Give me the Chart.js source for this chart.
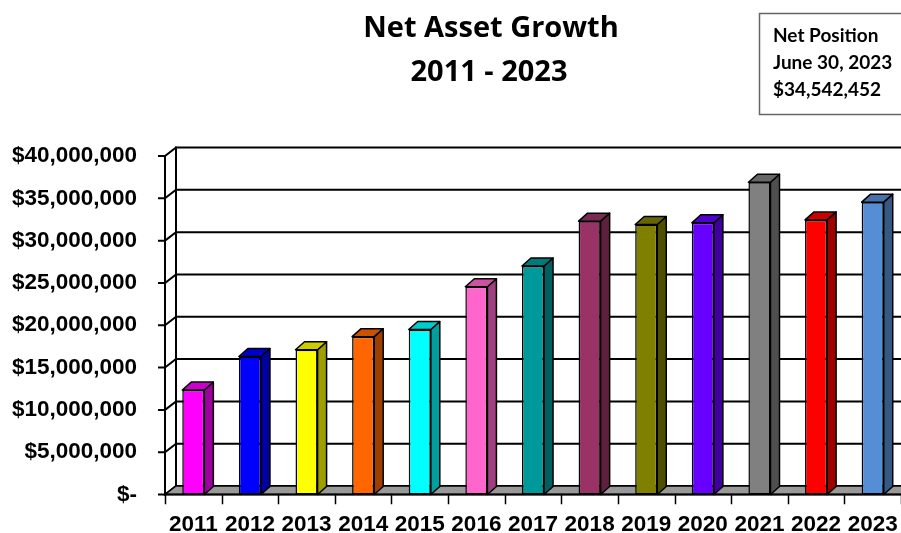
<!DOCTYPE html>
<html>
<head>
<meta charset="utf-8">
<script src="https://cdn.jsdelivr.net/npm/chart.js@4.4.0/dist/chart.umd.min.js"></script>
<style>
  body { margin: 0; background: #fff; }
  canvas { display: block; }
</style>
</head>
<body>
<canvas id="netChart" width="901" height="533"></canvas>
<script>
const years = ['2011', '2012', '2013', '2014', '2015', '2016', '2017', '2018', '2019', '2020', '2021', '2022', '2023'];
const netAssets = [12350000, 16300000, 17100000, 18650000, 19500000, 24550000, 27000000, 32300000, 31900000, 32100000, 36900000, 32450000, 34542452];
const barColors = ['#FF00FF', '#0000FF', '#FFFF00', '#FF6600', '#00FFFF', '#FF66CC', '#009999', '#993366', '#808000', '#6600FF', '#808080', '#FF0000', '#558ED5'];
const yTickLabels = ['$-', '$5,000,000', '$10,000,000', '$15,000,000', '$20,000,000', '$25,000,000', '$30,000,000', '$35,000,000', '$40,000,000'];
const titleLines = ['Net Asset Growth', '2011 - 2023'];
const noteLines = ['Net Position', 'June 30, 2023', '$34,542,452'];

// depth of the fake 3d box
const WALL_DX = 11, WALL_DY = 8.5;
const BAR_DX = 9, BAR_DY = 8;

function shade(hex, f) {
  const n = parseInt(hex.slice(1), 16);
  const r = Math.round(((n >> 16) & 255) * f);
  const g = Math.round(((n >> 8) & 255) * f);
  const b = Math.round((n & 255) * f);
  return 'rgb(' + r + ',' + g + ',' + b + ')';
}

function poly(ctx, pts, fill) {
  ctx.beginPath();
  ctx.moveTo(pts[0][0], pts[0][1]);
  for (let i = 1; i < pts.length; i++) ctx.lineTo(pts[i][0], pts[i][1]);
  ctx.closePath();
  if (fill) { ctx.fillStyle = fill; ctx.fill(); }
  ctx.stroke();
}

const box3d = {
  id: 'box3d',
  beforeDatasetsDraw(chart) {
    const ctx = chart.ctx;
    const area = chart.chartArea;
    const y = chart.scales.y;
    const x = chart.scales.x;
    const left = area.left;
    const y0 = y.getPixelForValue(0);
    const yTop = y.getPixelForValue(40000000);
    ctx.save();
    ctx.strokeStyle = '#000';
    ctx.lineWidth = 2;
    ctx.lineCap = 'square';

    // back wall grid lines with the small slanted joins on the left
    for (let v = 0; v <= 40000000; v += 5000000) {
      const py = y.getPixelForValue(v);
      ctx.beginPath();
      ctx.moveTo(left - 6, py);
      ctx.lineTo(left, py);
      ctx.lineTo(left + WALL_DX, py - WALL_DY);
      ctx.lineTo(chart.width + 5, py - WALL_DY);
      ctx.stroke();
    }
    // front and back vertical edges
    ctx.beginPath();
    ctx.moveTo(left, yTop);
    ctx.lineTo(left, y0);
    ctx.moveTo(left + WALL_DX, yTop - WALL_DY);
    ctx.lineTo(left + WALL_DX, y0 - WALL_DY);
    ctx.stroke();

    // floor
    ctx.lineWidth = 1.5;
    poly(ctx, [[left, y0], [left + WALL_DX, y0 - WALL_DY], [chart.width + 5, y0 - WALL_DY], [chart.width + 5, y0]], '#999999');
    ctx.lineWidth = 2;
    ctx.beginPath();
    ctx.moveTo(left, y0);
    ctx.lineTo(chart.width + 5, y0);
    ctx.stroke();

    // category tick marks under the floor
    const cw = (x.right - x.left) / years.length;
    ctx.lineWidth = 1.5;
    for (let i = 0; i <= years.length; i++) {
      const px = Math.round(x.left + i * cw) + 0.5;
      ctx.beginPath();
      ctx.moveTo(px, y0);
      ctx.lineTo(px, y0 + 9);
      ctx.stroke();
    }
    ctx.restore();
  },
  afterDatasetsDraw(chart) {
    const ctx = chart.ctx;
    const meta = chart.getDatasetMeta(0);
    ctx.save();
    ctx.strokeStyle = '#000';
    ctx.lineWidth = 1.5;
    ctx.lineJoin = 'round';
    meta.data.forEach((bar, i) => {
      const p = bar.getProps(['x', 'y', 'base', 'width'], true);
      const l = p.x - p.width / 2, r = p.x + p.width / 2;
      const c = barColors[i];
      poly(ctx, [[r, p.y], [r + BAR_DX, p.y - BAR_DY], [r + BAR_DX, p.base - BAR_DY], [r, p.base]], shade(c, 0.62));
      poly(ctx, [[l, p.y], [l + BAR_DX, p.y - BAR_DY], [r + BAR_DX, p.y - BAR_DY], [r, p.y]], shade(c, 0.8));
    });
    ctx.restore();
  },
  afterDraw(chart) {
    const ctx = chart.ctx;
    ctx.save();
    ctx.fillStyle = '#000';
    ctx.textAlign = 'center';
    ctx.textBaseline = 'alphabetic';
    ctx.font = 'bold 29px "Open Sans"';
    ctx.fillText(titleLines[0], 491, 37);
    ctx.fillText(titleLines[1], 489, 81);

    // note box, top right (runs off the right edge like the original)
    ctx.strokeStyle = '#666';
    ctx.lineWidth = 1.5;
    ctx.strokeRect(759.5, 13.5, 220, 101);
    ctx.textAlign = 'left';
    ctx.font = 'bold 19px Lato';
    ctx.fillText(noteLines[0], 773, 42);
    ctx.fillText(noteLines[1], 773, 69);
    ctx.fillText(noteLines[2], 773, 96);
    ctx.restore();
  }
};

new Chart(document.getElementById('netChart'), {
  type: 'bar',
  data: {
    labels: years,
    datasets: [{
      data: netAssets,
      backgroundColor: barColors,
      borderColor: '#000',
      borderWidth: 1.5,
      borderSkipped: false,
      barPercentage: 0.39,
      categoryPercentage: 1
    }]
  },
  options: {
    responsive: false,
    devicePixelRatio: 1,
    animation: false,
    layout: {
      padding: { top: 156, left: 0, right: 0, bottom: 0 }
    },
    plugins: {
      legend: { display: false },
      title: { display: false },
      tooltip: { enabled: false }
    },
    scales: {
      x: {
        grid: { display: false },
        border: { display: false },
        ticks: {
          color: '#000',
          padding: 9,
          font: { family: '"Liberation Sans", Arial', size: 22.5, weight: 'bold' }
        },
        afterFit(scale) {
          scale.height = 38.5;
          scale.paddingLeft = 0;
          scale.paddingRight = 0;
        }
      },
      y: {
        min: 0,
        max: 40000000,
        grid: { display: false },
        border: { display: false },
        ticks: {
          stepSize: 5000000,
          color: '#000',
          padding: 20,
          font: { family: '"Liberation Sans", Arial', size: 22.5, weight: 'bold' },
          callback: (v) => yTickLabels[Math.round(v / 5000000)]
        },
        afterFit(scale) {
          scale.width = 165;
          scale.paddingTop = 0;
          scale.paddingBottom = 0;
        }
      }
    }
  },
  plugins: [box3d]
});
</script>
</body>
</html>
